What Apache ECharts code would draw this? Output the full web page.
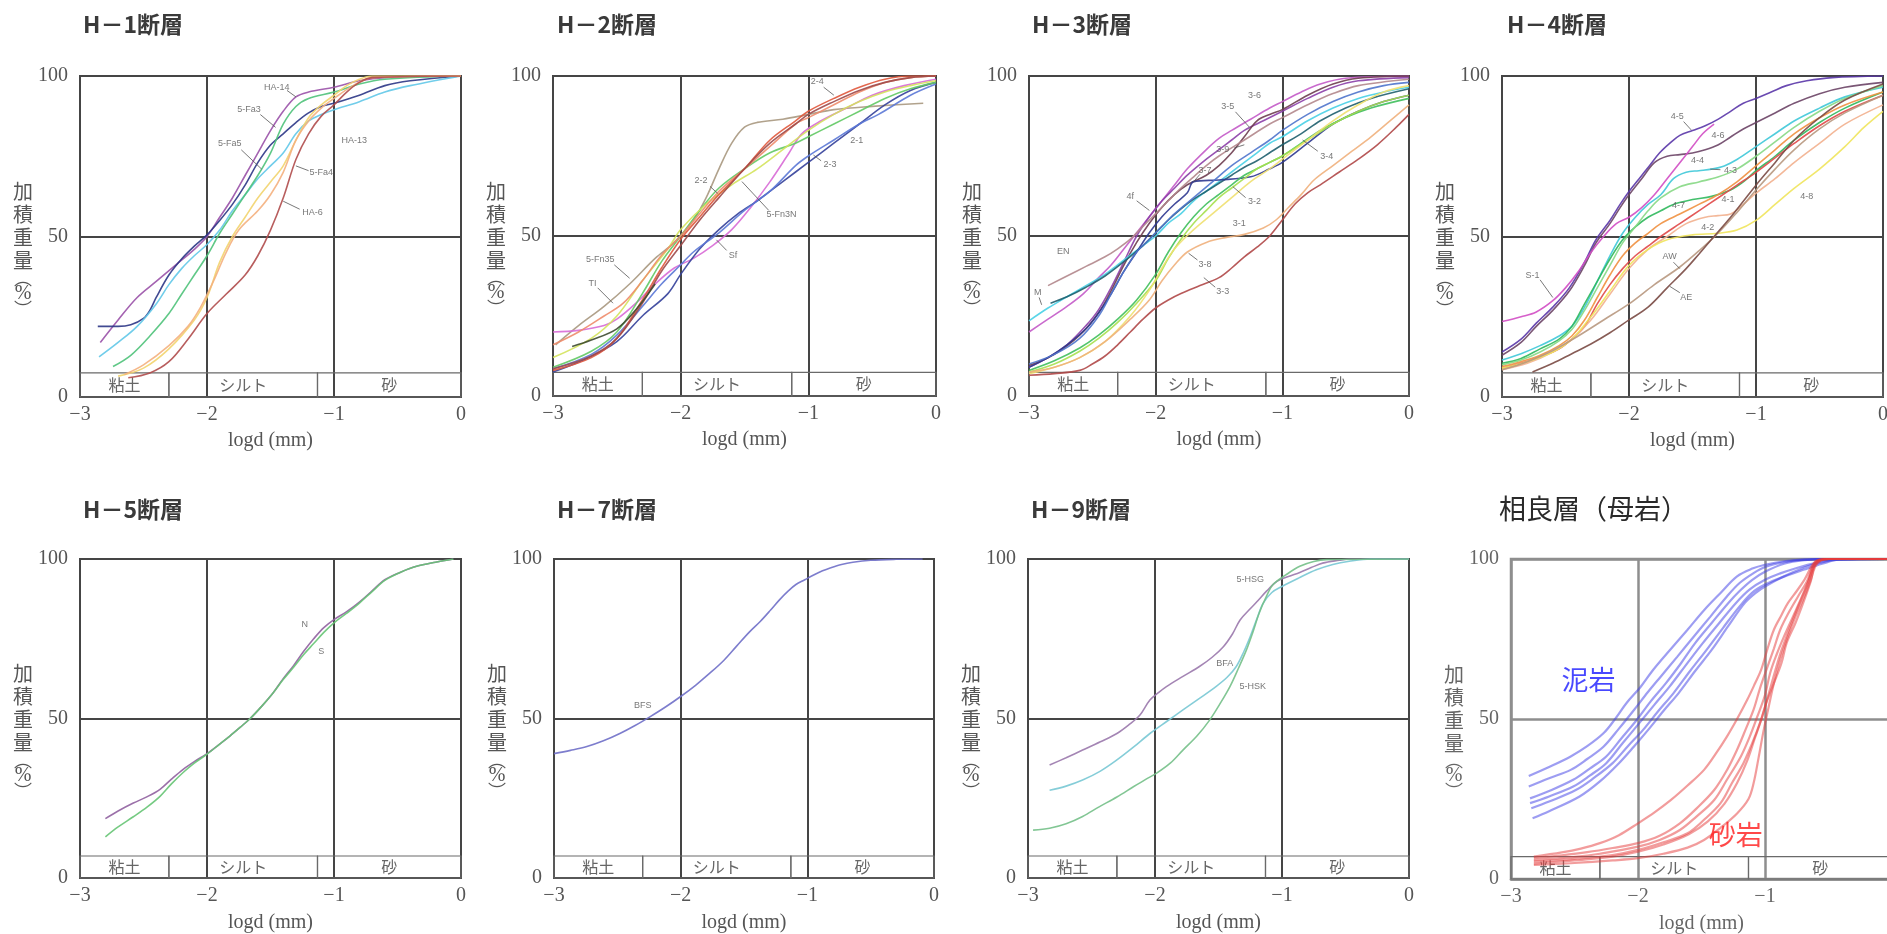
<!DOCTYPE html>
<html><head><meta charset="utf-8">
<script src="https://cdn.jsdelivr.net/npm/echarts@6/dist/echarts.min.js"></script>
<style>html,body{margin:0;padding:0;background:#fff;}#c{width:1887px;height:934px;}</style>
</head><body><div id="c"></div>
<script>
// ---------- titles / labels ----------
const panelTitles = ['H－1断層','H－2断層','H－3断層','H－4断層','H－5断層','H－7断層','H－9断層','相良層（母岩）'];
const bandNames = ['粘土','シルト','砂'];
const bandEdges = [-3, -2.3, -1.13, 0];   // log d of 0.005 mm and 0.074 mm
const xAxisName = 'logd (mm)';

// ---------- H-1 ----------
const h1_HA14 = [[-2.84,17],[-2.7,24],[-2.55,31],[-2.4,36],[-2.25,41],[-2.1,46],[-2.0,50],[-1.9,56],[-1.8,62],[-1.7,69],[-1.6,76],[-1.5,83],[-1.4,89],[-1.3,93.5],[-1.2,95],[-1.0,96.5],[-0.8,98.5],[-0.6,99.5],[0,100]];
const h1_Fa5 = [[-2.86,22],[-2.7,22],[-2.6,22.5],[-2.5,24.5],[-2.45,27],[-2.4,31],[-2.3,38],[-2.2,43],[-2.1,47],[-2.0,50.5],[-1.9,55],[-1.8,60],[-1.7,66],[-1.6,73],[-1.5,78.5],[-1.4,82],[-1.3,85.5],[-1.2,88.5],[-1.1,90.5],[-1.0,91.5],[-0.8,94],[-0.6,97],[-0.4,98.5],[0,100]];
const h1_HA13 = [[-2.85,12.5],[-2.7,17],[-2.55,22],[-2.4,29],[-2.3,35],[-2.2,40],[-2.1,44],[-2.0,47.5],[-1.9,52],[-1.8,58],[-1.7,63],[-1.6,68],[-1.5,72],[-1.4,76],[-1.3,82],[-1.2,86],[-1.1,88],[-1.0,89.5],[-0.8,92],[-0.6,95],[-0.4,97],[0,100]];
const h1_Fa3 = [[-2.74,9.5],[-2.6,13],[-2.45,19],[-2.3,26],[-2.2,32],[-2.1,38],[-2.0,44],[-1.9,51],[-1.8,57],[-1.7,63],[-1.6,69],[-1.5,76],[-1.4,85],[-1.3,90.5],[-1.2,93],[-1.0,95],[-0.8,97.5],[-0.6,99],[0,100]];
const h1_Fa4 = [[-2.7,6.5],[-2.5,9],[-2.3,15],[-2.1,24],[-2.0,31],[-1.9,42],[-1.8,50],[-1.7,56],[-1.6,62],[-1.5,67],[-1.4,72],[-1.3,80],[-1.2,87],[-1.1,91],[-1.0,94],[-0.9,97],[-0.8,99],[-0.7,100],[0,100]];
const h1_orange = [[-2.65,7],[-2.5,10],[-2.3,16],[-2.15,22],[-2.05,28],[-1.95,36],[-1.85,45],[-1.75,52],[-1.6,58],[-1.5,63],[-1.4,70],[-1.3,80],[-1.2,86],[-1.1,90],[-1.0,93],[-0.85,97],[-0.7,99.5],[0,100]];
const h1_HA6 = [[-2.62,6],[-2.45,7.5],[-2.3,11],[-2.15,18],[-2.0,26],[-1.85,32],[-1.7,38],[-1.6,44],[-1.5,52],[-1.4,62],[-1.3,74],[-1.2,82],[-1.1,87.5],[-1.0,91],[-0.9,95],[-0.8,98],[-0.7,99.5],[0,100]];
const h1_notes = [['HA-14',-1.45,96.5],['5-Fa3',-1.67,89.5],['5-Fa5',-1.82,79],['HA-13',-0.84,80],['5-Fa4',-1.1,70],['HA-6',-1.17,57.5]];
const h1_leaders = [[-1.37,95.5,-1.3,93.5],[-1.58,88,-1.46,84],[-1.73,77,-1.57,71],[-1.2,70.5,-1.3,72],[-1.27,58.5,-1.4,61]];

// ---------- H-2 ----------
const h2_Fn35 = [[-2.98,16],[-2.8,22],[-2.6,28],[-2.4,35],[-2.2,43],[-2.05,48],[-1.9,55],[-1.8,62],[-1.7,71],[-1.6,79],[-1.5,84],[-1.4,85.5],[-1.2,86.5],[-1.0,88],[-0.8,89.5],[-0.5,90.5],[-0.1,91.5]];
const h2_Sf = [[-3,20],[-2.8,20.5],[-2.6,22],[-2.5,24],[-2.35,29],[-2.2,35],[-2.05,40],[-1.9,43],[-1.75,47],[-1.6,52],[-1.45,59],[-1.3,67],[-1.15,76],[-1.05,82],[-0.9,86],[-0.7,90],[-0.5,94],[-0.25,97],[0,99]];
const h2_23 = [[-3,7.5],[-2.75,11.5],[-2.5,17],[-2.3,25],[-2.1,32],[-2.0,38],[-1.85,46],[-1.7,52],[-1.55,57],[-1.4,61],[-1.2,67],[-1.0,73],[-0.8,79],[-0.6,85],[-0.4,91],[-0.2,95.5],[0,98]];
const h2_21 = [[-3,8.5],[-2.7,13],[-2.5,19],[-2.3,28],[-2.15,35],[-2.0,41],[-1.9,45],[-1.7,51],[-1.5,58],[-1.3,64],[-1.1,72],[-1.0,75],[-0.8,80],[-0.6,85],[-0.45,88],[-0.2,94],[0,97.5]];
const h2_green = [[-3,9],[-2.7,14],[-2.5,20],[-2.3,32],[-2.15,42],[-2.0,50],[-1.85,58],[-1.7,65],[-1.5,71],[-1.3,76],[-1.1,79],[-1.0,81],[-0.8,85],[-0.6,89],[-0.4,93],[-0.2,96],[0,98]];
const h2_ygreen = [[-3,12],[-2.7,18],[-2.5,25],[-2.3,36],[-2.1,46],[-2.0,52],[-1.8,60],[-1.6,66],[-1.4,71],[-1.2,77],[-1.0,83],[-0.8,88],[-0.6,92],[-0.4,95],[-0.2,97],[0,98.5]];
const h2_TI = [[-3,16],[-2.8,20],[-2.6,25],[-2.45,29],[-2.3,36],[-2.15,44],[-2.0,50],[-1.85,57],[-1.7,64],[-1.5,71],[-1.3,78],[-1.1,85],[-1.0,87],[-0.8,91],[-0.6,95],[-0.4,98],[-0.2,99.5],[0,100]];
const h2_24 = [[-3,8],[-2.7,12],[-2.5,18],[-2.3,30],[-2.15,40],[-2.0,49],[-1.85,56],[-1.7,63],[-1.5,71],[-1.3,80],[-1.1,86],[-1.0,89],[-0.8,93],[-0.6,96.5],[-0.4,99],[-0.2,100],[0,100]];
const h2_22 = [[-3,8.5],[-2.7,12.5],[-2.5,18],[-2.3,29],[-2.15,39],[-2.0,47],[-1.85,55],[-1.7,62],[-1.5,71],[-1.3,79],[-1.1,85],[-1.0,88],[-0.8,92],[-0.6,95.5],[-0.4,98],[-0.2,99.5],[0,100]];
const h2_olive = [[-2.85,15.5],[-2.7,17.5],[-2.5,21],[-2.35,27],[-2.2,35]];
const h2_notes = [['2-4',-0.93,98.2],['2-1',-0.62,79.7],['2-3',-0.83,72.2],['2-2',-1.84,67.2],['5-Fn3N',-1.21,56.6],['Sf',-1.59,44],['5-Fn35',-2.63,42.5],['TI',-2.69,35.2]];
const h2_leaders = [[-0.88,96.5,-0.8,94],[-0.9,73.5,-0.96,75.3],[-1.77,65.5,-1.71,63.3],[-1.31,58,-1.52,67],[-1.64,45.5,-1.72,48.8],[-2.52,41,-2.4,36.8],[-2.65,33.8,-2.53,29]];

// ---------- H-3 ----------
const h3_4f = [[-3,20],[-2.85,24],[-2.7,28],[-2.57,32],[-2.45,37],[-2.35,41],[-2.25,46],[-2.15,51],[-2.05,56],[-1.95,61],[-1.85,66],[-1.75,71],[-1.6,77],[-1.5,80.5],[-1.4,83],[-1.25,86.5],[-1.1,90],[-1.0,92],[-0.85,95],[-0.7,97.5],[-0.5,99.3],[0,100]];
const h3_35 = [[-3,9],[-2.85,12],[-2.7,16],[-2.55,22],[-2.45,27],[-2.35,34],[-2.25,42],[-2.15,50],[-2.05,56],[-1.95,61],[-1.85,65],[-1.75,69],[-1.6,74],[-1.5,77],[-1.4,80],[-1.3,83],[-1.15,86],[-1.0,89],[-0.8,93],[-0.6,96.5],[-0.4,98.5],[0,99.5]];
const h3_36 = [[-3,9.5],[-2.8,13],[-2.6,19],[-2.45,26],[-2.35,33],[-2.25,41],[-2.15,48],[-2.05,54],[-1.95,59],[-1.85,63],[-1.75,66],[-1.6,69],[-1.5,72],[-1.4,76],[-1.3,81],[-1.2,86],[-1.1,88],[-1.0,89.5],[-0.8,94],[-0.6,97.5],[-0.4,99.3],[0,100]];
const h3_M = [[-3,23.5],[-2.85,27.5],[-2.7,31],[-2.55,34.5],[-2.4,38],[-2.3,41],[-2.2,44],[-2.1,47],[-2.0,50],[-1.9,54],[-1.8,57],[-1.7,61],[-1.6,64],[-1.5,67],[-1.4,70],[-1.3,73],[-1.2,76],[-1.1,79],[-1.0,81],[-0.8,86],[-0.6,90],[-0.4,93],[-0.2,95],[0,96.5]];
const h3_34 = [[-2.83,29],[-2.7,31],[-2.55,34],[-2.4,37.5],[-2.25,42],[-2.1,47],[-2.0,51],[-1.9,55],[-1.8,58.5],[-1.7,61.5],[-1.6,64],[-1.5,66.5],[-1.4,69],[-1.3,71.5],[-1.2,73.5],[-1.1,76],[-1.0,78.5],[-0.85,82],[-0.7,86],[-0.5,90],[-0.3,93],[0,96]];
const h3_EN = [[-2.85,34.5],[-2.7,37.5],[-2.55,40.5],[-2.4,43.5],[-2.3,46],[-2.2,49],[-2.1,53],[-2.0,57],[-1.9,61],[-1.8,65],[-1.7,68.5],[-1.6,72],[-1.5,75],[-1.3,80],[-1.1,85],[-1.0,87],[-0.8,91],[-0.6,94.5],[-0.4,97],[0,99]];
const h3_37 = [[-3,9],[-2.85,12],[-2.7,16],[-2.55,21],[-2.45,26],[-2.35,32],[-2.25,39],[-2.15,45],[-2.05,51],[-1.95,56],[-1.85,60],[-1.75,63.5],[-1.7,67],[-1.5,67.5],[-1.25,68.5],[-1.1,71],[-1.0,73],[-0.8,79],[-0.6,85],[-0.4,89],[-0.2,92],[0,94]];
const h3_39 = [[-3,10],[-2.8,13],[-2.6,18],[-2.45,25],[-2.35,32],[-2.25,39],[-2.15,45],[-2.05,49],[-1.95,53],[-1.85,57],[-1.7,62],[-1.55,67],[-1.4,72],[-1.25,76],[-1.1,80],[-1.0,83],[-0.8,88],[-0.6,92],[-0.4,95],[-0.2,97],[0,98]];
const h3_32 = [[-3,8],[-2.8,11],[-2.6,15],[-2.45,19],[-2.3,24],[-2.15,30],[-2.0,38],[-1.9,45],[-1.8,51],[-1.7,56],[-1.6,60],[-1.5,63],[-1.4,66],[-1.3,69],[-1.2,71],[-1.1,73],[-1.0,75],[-0.85,79],[-0.7,83],[-0.5,87],[-0.3,90],[0,93]];
const h3_31 = [[-3,7.5],[-2.8,10],[-2.6,14],[-2.45,18],[-2.3,23],[-2.15,29],[-2.0,36],[-1.9,43],[-1.8,49],[-1.7,54],[-1.6,58],[-1.5,62],[-1.4,65],[-1.3,68],[-1.2,71],[-1.1,73],[-1.0,75],[-0.8,80],[-0.6,85],[-0.4,89],[-0.2,92],[0,94]];
const h3_yellow = [[-3,7],[-2.8,9],[-2.6,12],[-2.4,17],[-2.2,25],[-2.05,33],[-1.95,40],[-1.85,46],[-1.7,52],[-1.55,57],[-1.4,62],[-1.25,67],[-1.1,71],[-1.0,74],[-0.8,80],[-0.6,86],[-0.4,91],[-0.2,95],[0,97]];
const h3_38 = [[-3,7.5],[-2.8,9],[-2.6,12],[-2.4,17],[-2.2,24],[-2.05,30],[-1.95,36],[-1.85,41],[-1.75,45],[-1.6,48],[-1.45,49.5],[-1.3,50.5],[-1.15,52.5],[-1.05,55],[-0.95,59],[-0.85,63],[-0.75,67.5],[-0.6,72],[-0.45,76.5],[-0.3,81],[-0.15,86],[0,91]];
const h3_33 = [[-3,6.5],[-2.8,7],[-2.6,8],[-2.5,10],[-2.4,12.5],[-2.3,16],[-2.2,20],[-2.1,24],[-2.0,27.5],[-1.9,30],[-1.8,32],[-1.65,34.5],[-1.5,37],[-1.4,40],[-1.3,43.5],[-1.2,46.5],[-1.1,50],[-1.0,55],[-0.9,60],[-0.8,63.5],[-0.7,66],[-0.55,70],[-0.4,74],[-0.25,78.5],[-0.1,84],[0,88]];
const h3_notes = [['3-6',-1.22,94],['3-5',-1.43,90.4],['3-9',-1.47,77],['3-7',-1.61,70.6],['4f',-2.2,62.3],['3-4',-0.65,74.8],['3-2',-1.22,60.7],['3-1',-1.34,54],['EN',-2.73,45],['M',-2.93,32.3],['3-8',-1.61,41],['3-3',-1.47,32.6]];
const h3_leaders = [[-1.37,88.8,-1.26,84],[-1.38,77.5,-1.3,78.5],[-1.65,69.3,-1.7,67],[-2.15,61,-2.05,58],[-0.72,76.5,-0.84,80],[-1.29,62,-1.39,65.4],[-2.92,30.8,-2.9,28.5],[-1.67,42.5,-1.74,44.6],[-1.53,34,-1.62,37]];

// ---------- H-4 ----------
const h4_45 = [[-3,14],[-2.85,18],[-2.73,23],[-2.6,28],[-2.47,34],[-2.35,42],[-2.26,49],[-2.15,55],[-2.07,60],[-2.0,64],[-1.92,68],[-1.84,72],[-1.76,76],[-1.68,79],[-1.6,81.5],[-1.5,83],[-1.4,84.5],[-1.3,86.5],[-1.2,89],[-1.1,91.5],[-1.0,93],[-0.88,95],[-0.76,97],[-0.6,98.5],[-0.4,99.5],[0,100]];
const h4_46 = [[-3,13],[-2.85,17],[-2.73,22],[-2.6,27],[-2.47,33],[-2.35,41],[-2.26,48],[-2.15,54],[-2.07,59],[-2.0,63],[-1.9,68],[-1.8,73],[-1.7,75],[-1.6,75.5],[-1.5,76],[-1.4,77],[-1.3,78.5],[-1.2,81],[-1.1,83.5],[-1.0,85.5],[-0.85,88.5],[-0.7,91.5],[-0.5,94.5],[-0.3,96.5],[0,98]];
const h4_S1 = [[-3,23.5],[-2.85,25],[-2.73,26.5],[-2.6,30],[-2.5,34],[-2.4,39],[-2.3,45],[-2.2,50],[-2.1,54],[-2.0,56],[-1.9,59],[-1.8,63],[-1.7,68],[-1.6,73],[-1.5,78],[-1.42,82],[-1.33,85]];
const h4_43 = [[-3,11.5],[-2.85,13.5],[-2.7,16],[-2.55,19],[-2.45,22],[-2.35,28],[-2.25,36],[-2.15,44],[-2.05,51],[-1.95,56],[-1.85,60],[-1.75,63],[-1.65,68],[-1.55,70],[-1.45,70.5],[-1.35,71],[-1.25,72],[-1.15,74],[-1.0,78],[-0.85,82],[-0.7,86],[-0.5,90],[-0.3,93.5],[0,96.5]];
const h4_47 = [[-3,10.5],[-2.85,12],[-2.7,15],[-2.55,18],[-2.45,22],[-2.35,29],[-2.25,36],[-2.15,43],[-2.05,49],[-1.95,53],[-1.85,56],[-1.75,58],[-1.65,60],[-1.5,61.5],[-1.35,62.5],[-1.2,64.5],[-1.1,67],[-1.0,70.5],[-0.85,75],[-0.7,80],[-0.5,85.5],[-0.3,90],[0,95]];
const h4_44 = [[-3,10],[-2.85,11.5],[-2.7,14],[-2.55,17.5],[-2.45,21],[-2.35,27],[-2.25,34],[-2.15,41],[-2.05,48],[-1.95,53],[-1.85,58],[-1.75,62],[-1.6,65.5],[-1.45,67],[-1.3,68.5],[-1.15,71],[-1.0,75],[-0.85,79.5],[-0.7,84],[-0.5,89],[-0.3,93],[0,97]];
const h4_orange = [[-3,9.5],[-2.85,11],[-2.7,13],[-2.55,16],[-2.45,19],[-2.35,24],[-2.25,31],[-2.15,38],[-2.05,44],[-1.95,48],[-1.85,51],[-1.75,54],[-1.6,57],[-1.45,60],[-1.3,63],[-1.15,67],[-1.0,72],[-0.85,77],[-0.7,82],[-0.5,87],[-0.3,91],[0,95]];
const h4_41 = [[-3,9],[-2.85,10.5],[-2.7,12.5],[-2.55,15],[-2.45,18],[-2.35,22],[-2.25,29],[-2.15,35],[-2.05,40],[-1.95,44],[-1.85,47],[-1.75,50],[-1.6,54],[-1.45,58],[-1.3,62],[-1.15,66],[-1.0,70],[-0.85,74.5],[-0.7,79],[-0.5,84.5],[-0.3,89],[0,94]];
const h4_42 = [[-3,8.5],[-2.8,10.5],[-2.6,14],[-2.45,18],[-2.3,24],[-2.15,32],[-2.0,40],[-1.85,46],[-1.7,50],[-1.55,54],[-1.4,56],[-1.3,56.5],[-1.2,57],[-1.1,60],[-1.0,63.5],[-0.85,68],[-0.7,73],[-0.5,79],[-0.3,85],[0,91]];
const h4_48 = [[-3,9],[-2.8,11],[-2.6,14],[-2.45,18],[-2.3,25],[-2.15,33],[-2.0,41],[-1.85,46],[-1.7,49],[-1.5,50.5],[-1.3,51],[-1.15,52],[-1.0,55],[-0.85,60],[-0.7,65],[-0.5,71],[-0.3,78],[-0.15,84],[0,89]];
const h4_AW = [[-3,8.5],[-2.8,11],[-2.6,14.5],[-2.4,19],[-2.2,24],[-2.0,29],[-1.8,35],[-1.6,40.5],[-1.45,45.5],[-1.3,51],[-1.15,57.5],[-1.0,64.5],[-0.85,71],[-0.7,77],[-0.5,83.5],[-0.3,88.5],[0,94]];
const h4_AE = [[-2.76,7.8],[-2.6,10.5],[-2.45,13.5],[-2.3,16.5],[-2.15,20],[-2.0,24],[-1.85,28],[-1.7,34],[-1.55,40],[-1.45,44.5],[-1.33,50],[-1.2,56],[-1.1,61],[-1.0,66],[-0.85,73],[-0.7,80],[-0.5,87],[-0.3,92.5],[0,97.5]];
const h4_notes = [['4-5',-1.62,87.3],['4-6',-1.3,81.6],['4-4',-1.46,73.8],['4-3',-1.2,70.7],['4-7',-1.61,59.8],['4-1',-1.22,61.6],['4-2',-1.38,52.8],['AW',-1.68,43.7],['AE',-1.55,30.9],['S-1',-2.76,37.9],['4-8',-0.6,62.4]];
const h4_leaders = [[-1.57,85.8,-1.51,83.2],[-1.28,70.8,-1.36,71],[-1.65,42,-1.6,40],[-1.6,32.5,-1.68,34.5],[-2.7,36.5,-2.6,31]];

// ---------- H-5 ----------
const h5_N = [[-2.8,18.6],[-2.7,21],[-2.58,23.5],[-2.47,25.5],[-2.37,27.8],[-2.28,31],[-2.19,34],[-2.1,36.5],[-2.0,39],[-1.9,42],[-1.82,44.5],[-1.74,47.2],[-1.66,50],[-1.57,53.8],[-1.48,58],[-1.4,62.5],[-1.32,66.5],[-1.24,71],[-1.16,75],[-1.08,78.5],[-1.0,81],[-0.9,83.5],[-0.8,86.5],[-0.7,90],[-0.6,93.5],[-0.48,95.8],[-0.35,97.7],[-0.2,99],[-0.06,100]];
const h5_S = [[-2.8,12.9],[-2.7,16],[-2.58,19.2],[-2.47,22.3],[-2.37,25.6],[-2.28,29.5],[-2.19,33],[-2.1,36],[-2.0,38.8],[-1.9,42],[-1.82,44.5],[-1.74,47.2],[-1.66,50],[-1.57,53.8],[-1.48,58],[-1.4,62.2],[-1.32,66],[-1.24,70],[-1.16,73.5],[-1.08,77],[-1.0,80],[-0.9,83],[-0.8,86.2],[-0.7,89.8],[-0.6,93.3],[-0.48,95.8],[-0.35,97.7],[-0.2,99],[-0.06,100]];
const h5_notes = [['N',-1.23,79.4],['S',-1.1,71]];

// ---------- H-7 ----------
const h7_BFS = [[-3,39],[-2.87,40],[-2.74,41.2],[-2.61,43],[-2.48,45.3],[-2.36,47.8],[-2.24,50.6],[-2.12,53.6],[-2.0,56.9],[-1.88,60.5],[-1.77,64.2],[-1.66,68.2],[-1.56,72.6],[-1.46,77],[-1.37,80.5],[-1.29,84],[-1.22,87.2],[-1.15,90],[-1.09,92],[-1.02,93.5],[-0.95,95],[-0.88,96.3],[-0.82,97.2],[-0.73,98.3],[-0.64,99],[-0.5,99.6],[-0.3,99.9],[-0.09,100]];
const h7_notes = [['BFS',-2.3,54]];

// ---------- H-9 ----------
const h9_HSG = [[-2.83,35.4],[-2.7,37.7],[-2.57,40.1],[-2.43,42.7],[-2.3,45.3],[-2.2,48.2],[-2.12,51],[-2.04,55.8],[-1.97,58.2],[-1.91,60],[-1.78,63.2],[-1.65,66.3],[-1.55,69.2],[-1.46,72.6],[-1.39,76.5],[-1.33,80.9],[-1.26,84],[-1.2,86.5],[-1.12,90],[-1.04,93],[-0.95,94.5],[-0.86,95.8],[-0.77,97.3],[-0.68,98.7],[-0.55,99.6],[-0.47,100],[0,100]];
const h9_BFA = [[-2.83,27.5],[-2.7,28.8],[-2.57,30.7],[-2.43,33.5],[-2.3,37],[-2.17,41],[-2.04,45.3],[-1.9,49.3],[-1.78,52.7],[-1.65,56.3],[-1.52,60],[-1.43,63],[-1.36,66.3],[-1.3,71],[-1.25,75.7],[-1.2,81],[-1.15,86],[-1.08,89.5],[-1.0,91.4],[-0.87,94],[-0.73,96.6],[-0.6,98.3],[-0.47,99.3],[-0.3,100],[0,100]];
const h9_HSK = [[-2.96,15],[-2.83,15.6],[-2.7,17],[-2.57,19.3],[-2.44,22.3],[-2.3,25.4],[-2.17,28.6],[-2.07,31],[-1.99,32.8],[-1.88,36],[-1.78,40.1],[-1.67,44.5],[-1.57,49.5],[-1.49,54.5],[-1.41,60],[-1.34,66],[-1.28,71.5],[-1.23,77],[-1.18,83],[-1.12,88.5],[-1.07,92],[-0.97,95],[-0.86,97.7],[-0.75,99.2],[-0.65,99.8],[0,100]];
const h9_notes = [['5-HSG',-1.25,93.5],['BFA',-1.45,67.3],['5-HSK',-1.23,60]];

// ---------- 相良層 ----------
const sg_mud1 = [[-2.86,32.2],[-2.7,35],[-2.53,38.3],[-2.4,41.5],[-2.27,45.6],[-2.18,50],[-2.09,55],[-1.98,60],[-1.88,65.4],[-1.75,71.5],[-1.61,77.9],[-1.48,84],[-1.35,89.4],[-1.22,94.6],[-1.1,97],[-1.0,98.2],[-0.85,99.3],[-0.69,99.8],[-0.5,100],[0,100]];
const sg_mud2 = [[-2.86,28.9],[-2.7,31.5],[-2.53,34.1],[-2.4,37.5],[-2.27,41.4],[-2.15,47],[-2.03,52.9],[-1.92,58.5],[-1.82,63.3],[-1.69,69.5],[-1.56,75.8],[-1.43,82],[-1.3,88.3],[-1.2,92.5],[-1.09,95.6],[-1.0,97.5],[-0.85,99],[-0.69,99.8],[-0.5,100],[0,100]];
const sg_mud3 = [[-2.85,25.2],[-2.7,27.5],[-2.51,31],[-2.38,34.5],[-2.25,38.3],[-2.13,44],[-2.01,49.7],[-1.9,55.5],[-1.78,61.2],[-1.66,67.5],[-1.55,73.7],[-1.42,80],[-1.29,86.2],[-1.2,90],[-1.1,93.5],[-1.0,96],[-0.85,98.5],[-0.69,99.6],[-0.5,100],[0,100]];
const sg_mud4 = [[-2.85,23.7],[-2.7,25.8],[-2.51,28.9],[-2.38,32.3],[-2.25,36.2],[-2.12,42.5],[-1.99,48.7],[-1.87,54.5],[-1.75,60.2],[-1.62,67],[-1.49,73.7],[-1.36,80],[-1.23,86.2],[-1.12,90.5],[-1.0,93.5],[-0.88,95.5],[-0.75,97.2],[-0.6,98.8],[-0.45,99.8],[0,100]];
const sg_mud5 = [[-2.84,22.1],[-2.7,24.2],[-2.49,27.8],[-2.35,31.5],[-2.2,36.2],[-2.08,41.5],[-1.96,46.6],[-1.84,52.5],[-1.72,58.1],[-1.59,65],[-1.46,71.6],[-1.33,78.5],[-1.2,85.2],[-1.1,89.5],[-1.0,92],[-0.85,94.5],[-0.69,96.7],[-0.55,98.5],[-0.42,99.8],[0,100]];
const sg_mud6 = [[-2.83,19],[-2.7,21.2],[-2.46,25.8],[-2.3,30.5],[-2.15,36.2],[-2.03,41.5],[-1.92,46.6],[-1.8,52.5],[-1.68,58.1],[-1.55,65],[-1.42,71.6],[-1.29,79],[-1.16,86.2],[-1.07,89.5],[-1.0,91.4],[-0.85,94.6],[-0.7,97.2],[-0.58,98.7],[-0.42,99.8],[0,100]];
const sg_sand1 = [[-2.82,7],[-2.6,8.3],[-2.45,9.5],[-2.3,11.2],[-2.15,13.7],[-2.0,17.4],[-1.87,20.8],[-1.74,24.7],[-1.61,29.2],[-1.48,34.1],[-1.39,39],[-1.3,44.5],[-1.22,50],[-1.14,56],[-1.08,61],[-1.03,65.4],[-0.98,72],[-0.93,77.9],[-0.87,82.5],[-0.82,86.2],[-0.75,90],[-0.69,93.5],[-0.6,99.3],[-0.5,100],[0,100]];
const sg_sand2 = [[-2.82,6.5],[-2.6,7.4],[-2.4,8.4],[-2.2,9.7],[-2.0,11.2],[-1.83,13.5],[-1.67,17.4],[-1.54,22],[-1.4,27.8],[-1.3,34],[-1.22,40.4],[-1.15,47],[-1.09,52.9],[-1.04,59.5],[-0.98,66.4],[-0.93,72],[-0.88,77.9],[-0.81,83.5],[-0.74,88.3],[-0.67,93],[-0.6,99.3],[-0.5,100],[0,100]];
const sg_sand3 = [[-2.82,5.9],[-2.5,6.9],[-2.3,7.9],[-2.0,10.1],[-1.83,12.2],[-1.67,15.3],[-1.54,19.5],[-1.4,24.7],[-1.3,31],[-1.19,38.3],[-1.12,44.5],[-1.06,50.8],[-1.0,57.5],[-0.96,64.3],[-0.91,70],[-0.85,75.8],[-0.78,82],[-0.72,87.3],[-0.66,93],[-0.6,99],[-0.5,100],[0,100]];
const sg_sand4 = [[-2.82,5.4],[-2.5,6.3],[-2.2,7.5],[-2.0,9.1],[-1.8,11.5],[-1.61,14.3],[-1.48,18.5],[-1.35,23.7],[-1.26,30],[-1.17,36.2],[-1.1,42.5],[-1.04,48.7],[-0.99,55],[-0.93,61.2],[-0.87,67.5],[-0.83,73.7],[-0.76,80],[-0.7,86.2],[-0.64,93],[-0.6,98.5],[-0.5,100],[0,100]];
const sg_sand5 = [[-2.82,4.4],[-2.5,5],[-2.2,5.8],[-2.0,6.5],[-1.8,7.9],[-1.61,9.8],[-1.48,12.2],[-1.35,16],[-1.22,20.5],[-1.13,25],[-1.09,29.9],[-1.05,38],[-1.01,46.6],[-0.97,54],[-0.93,61.2],[-0.88,68.5],[-0.82,75.8],[-0.76,82],[-0.69,88.3],[-0.64,93.5],[-0.59,98.5],[-0.5,100],[0,100]];
const sg_sand6 = [[-2.82,4.8],[-2.5,5.8],[-2.2,7],[-2.0,8.5],[-1.8,10.8],[-1.6,14],[-1.45,18],[-1.32,23.5],[-1.22,30],[-1.14,37],[-1.08,44],[-1.02,51],[-0.97,58],[-0.92,65],[-0.87,71.5],[-0.81,78],[-0.74,85],[-0.67,91.5],[-0.6,98.5],[-0.5,100],[0,100]];
const sg_notes = [['泥岩',-2.39,62.3],['砂岩',-1.23,13.8]];

// ---------- build ----------
const SERIF = "'Liberation Serif','DejaVu Serif',serif";
const CJK = "'Noto Sans CJK JP','Noto Sans',sans-serif";
const fmtX = v => (v < 0 ? '\u2212' + Math.abs(v) : String(v));

const panels = [
  {grid:{left:80,top:76,width:381,height:321}, tl:78, tt:8, gap:55, band:7.5,
   curves:[[h1_HA14,'#9a52a8'],[h1_Fa5,'#2c3686'],[h1_HA13,'#62c8e8'],[h1_Fa3,'#4fc27a'],[h1_Fa4,'#f2d46e'],[h1_orange,'#f4b07e'],[h1_HA6,'#b04c4c']],
   notes:h1_notes, leaders:h1_leaders},
  {grid:{left:553,top:76,width:383,height:320}, tl:552, tt:8, gap:53, band:7.4,
   curves:[[h2_Fn35,'#a8987f'],[h2_Sf,'#d86ad6'],[h2_23,'#34409a'],[h2_21,'#5b78d6'],[h2_green,'#62c964'],[h2_ygreen,'#d4e35c'],[h2_TI,'#ee8c6c'],[h2_24,'#e0583c'],[h2_22,'#9e4a4a'],[h2_olive,'#3d4a30']],
   notes:h2_notes, leaders:h2_leaders},
  {grid:{left:1029,top:76,width:380,height:320}, tl:1027, tt:8, gap:56, band:7.4,
   curves:[[h3_4f,'#c35ac8'],[h3_35,'#8c3fa8'],[h3_36,'#6e3d50'],[h3_M,'#48d0e6'],[h3_34,'#1f5f6e'],[h3_EN,'#b3878c'],[h3_37,'#2f3890'],[h3_39,'#4f74cc'],[h3_32,'#3fbf5c'],[h3_31,'#a6e04e'],[h3_yellow,'#efe070'],[h3_38,'#f0b07c'],[h3_33,'#b04848']],
   notes:h3_notes, leaders:h3_leaders},
  {grid:{left:1502,top:76,width:381,height:321}, tl:1502, tt:8, gap:54, band:7.5,
   curves:[[h4_45,'#5a36a8'],[h4_46,'#6c4466'],[h4_S1,'#d24ec4'],[h4_43,'#3ec8d8'],[h4_47,'#2fb85c'],[h4_44,'#86d884'],[h4_orange,'#f09040'],[h4_41,'#e04848'],[h4_42,'#f2b08e'],[h4_48,'#f0e45c'],[h4_AW,'#b89880'],[h4_AE,'#7a4a44']],
   notes:h4_notes, leaders:h4_leaders},
  {grid:{left:80,top:559,width:381,height:319}, tl:78, tt:493, gap:55, band:6.9,
   curves:[[h5_N,'#9060a0'],[h5_S,'#66c474']], notes:h5_notes, leaders:[]},
  {grid:{left:554,top:559,width:380,height:319}, tl:552, tt:493, gap:56, band:6.9,
   curves:[[h7_BFS,'#6f6fc8']], notes:h7_notes, leaders:[]},
  {grid:{left:1028,top:559,width:381,height:319}, tl:1026, tt:493, gap:55, band:6.9,
   curves:[[h9_HSG,'#9a78ac'],[h9_BFA,'#78c8d4'],[h9_HSK,'#74c088']], notes:h9_notes, leaders:[]},
  {grid:{left:1511,top:559,width:381,height:320}, tl:1494, tt:490, gap:53, band:7.0, soft:true,
   curves:[[sg_mud1,'b'],[sg_mud2,'b'],[sg_mud3,'b'],[sg_mud4,'b'],[sg_mud5,'b'],[sg_mud6,'b'],[sg_sand1,'r'],[sg_sand2,'r'],[sg_sand3,'r'],[sg_sand4,'r'],[sg_sand5,'r'],[sg_sand6,'r']],
   notes:sg_notes, leaders:[]}
];

const option = {animation:false, backgroundColor:'#fff', title:[], grid:[], xAxis:[], yAxis:[], series:[]};

panels.forEach((p, i) => {
  const lineCol = p.soft ? '#8e8e8e' : '#454545';
  const lineW = p.soft ? 2.5 : 2;
  const labCol = p.soft ? '#666' : '#555';
  option.title.push({
    text: panelTitles[i], left: p.tl, top: p.tt,
    textStyle: p.soft ? {fontFamily: CJK, fontSize: 27, fontWeight: 'normal', color: '#2a2a2a'}
                      : {fontFamily: CJK, fontSize: 23, fontWeight: 'bold', color: '#3a3a3a'}
  });
  option.grid.push(Object.assign({show:true, borderColor:lineCol, borderWidth:lineW, backgroundColor:'transparent',
    containLabel:false, outerBoundsMode:'none'}, p.grid));
  option.xAxis.push({
    type:'value', gridIndex:i, min:-3, max:0, interval:1,
    name: xAxisName, nameLocation:'middle', nameGap: i < 4 ? 34 : 35,
    nameTextStyle:{fontFamily:SERIF, fontSize:20, color:labCol},
    axisLine:{show:true, lineStyle:{color:lineCol, width:lineW}},
    axisTick:{show:false},
    axisLabel:{formatter:fmtX, fontFamily:SERIF, fontSize:20, color:labCol, margin:8},
    splitLine:{show:true, lineStyle:{color:lineCol, width:lineW}}
  });
  option.yAxis.push({
    type:'value', gridIndex:i, min:0, max:100, interval:50,
    name:'{a|加}\n{a|積}\n{a|重}\n{a|量}\n{p|︵}\n{b|%}\n{p|︶}',
    nameLocation:'middle', nameRotate:0, nameGap:p.gap,
    nameTextStyle:{align:'center', verticalAlign:'middle', padding:[22,0,0,0],
      rich:{a:{fontFamily:CJK, fontSize:20, lineHeight:23, color:labCol},
            b:{fontFamily:SERIF, fontSize:20, lineHeight:19, color:labCol},
            p:{fontFamily:CJK, fontSize:18, lineHeight:12, color:labCol}}},
    axisLine:{show:true, lineStyle:{color:lineCol, width:lineW}},
    axisTick:{show:false},
    axisLabel:{fontFamily:SERIF, fontSize:20, color:labCol, margin:12},
    splitLine:{show:true, lineStyle:{color:lineCol, width:lineW}}
  });
  // grain-size band
  option.series.push({
    type:'line', xAxisIndex:i, yAxisIndex:i, silent:true, z:1,
    data:[[-3,0],[0,0]], showSymbol:false, lineStyle:{opacity:0},
    markArea:{silent:true,
      itemStyle:{color:'rgba(255,255,255,0)', borderColor:'#6a6a6a', borderWidth:1.2},
      label:{show:true, position:'inside', fontFamily:CJK, fontSize:16, color:'#666'},
      data: bandNames.map((n, k) => [{name:n, coord:[bandEdges[k], 0]}, {coord:[bandEdges[k+1], p.band]}])
    }
  });
  p.curves.forEach(([d, c]) => {
    let color = c, op = 0.9, w = 1.6;
    if (c === 'b') { color = '#3c3ce6'; op = 0.5; w = 2.2; }
    if (c === 'r') { color = '#e63a3a'; op = 0.5; w = 2.2; }
    option.series.push({type:'line', xAxisIndex:i, yAxisIndex:i, data:d, smooth:0.35, showSymbol:false, silent:true, z:3,
      lineStyle:{color, width:w, opacity:op}});
  });
  const big = !!p.soft;
  option.series.push({
    type:'scatter', xAxisIndex:i, yAxisIndex:i, silent:true, z:5, symbolSize:1,
    itemStyle:{color:'rgba(0,0,0,0)'},
    data: p.notes.map(([t, x, y], k) => ({name:t, value:[x, y],
      label:{color: big ? (k === 0 ? '#1a1aff' : '#ff1a1a') : '#555'}})),
    label:{show:true, position:'inside', formatter:'{b}',
      fontFamily: big ? CJK : "'Liberation Sans',sans-serif", fontSize: big ? 27 : 9},
    markLine:{silent:true, symbol:['none','none'], animation:false,
      lineStyle:{color:'#555', width:0.8, type:'solid'}, label:{show:false},
      data: p.leaders.map(l => [{coord:[l[0], l[1]]}, {coord:[l[2], l[3]]}])}
  });
});

const chart = echarts.init(document.getElementById('c'), null, {renderer:'canvas'});
chart.setOption(option);
</script></body></html>
